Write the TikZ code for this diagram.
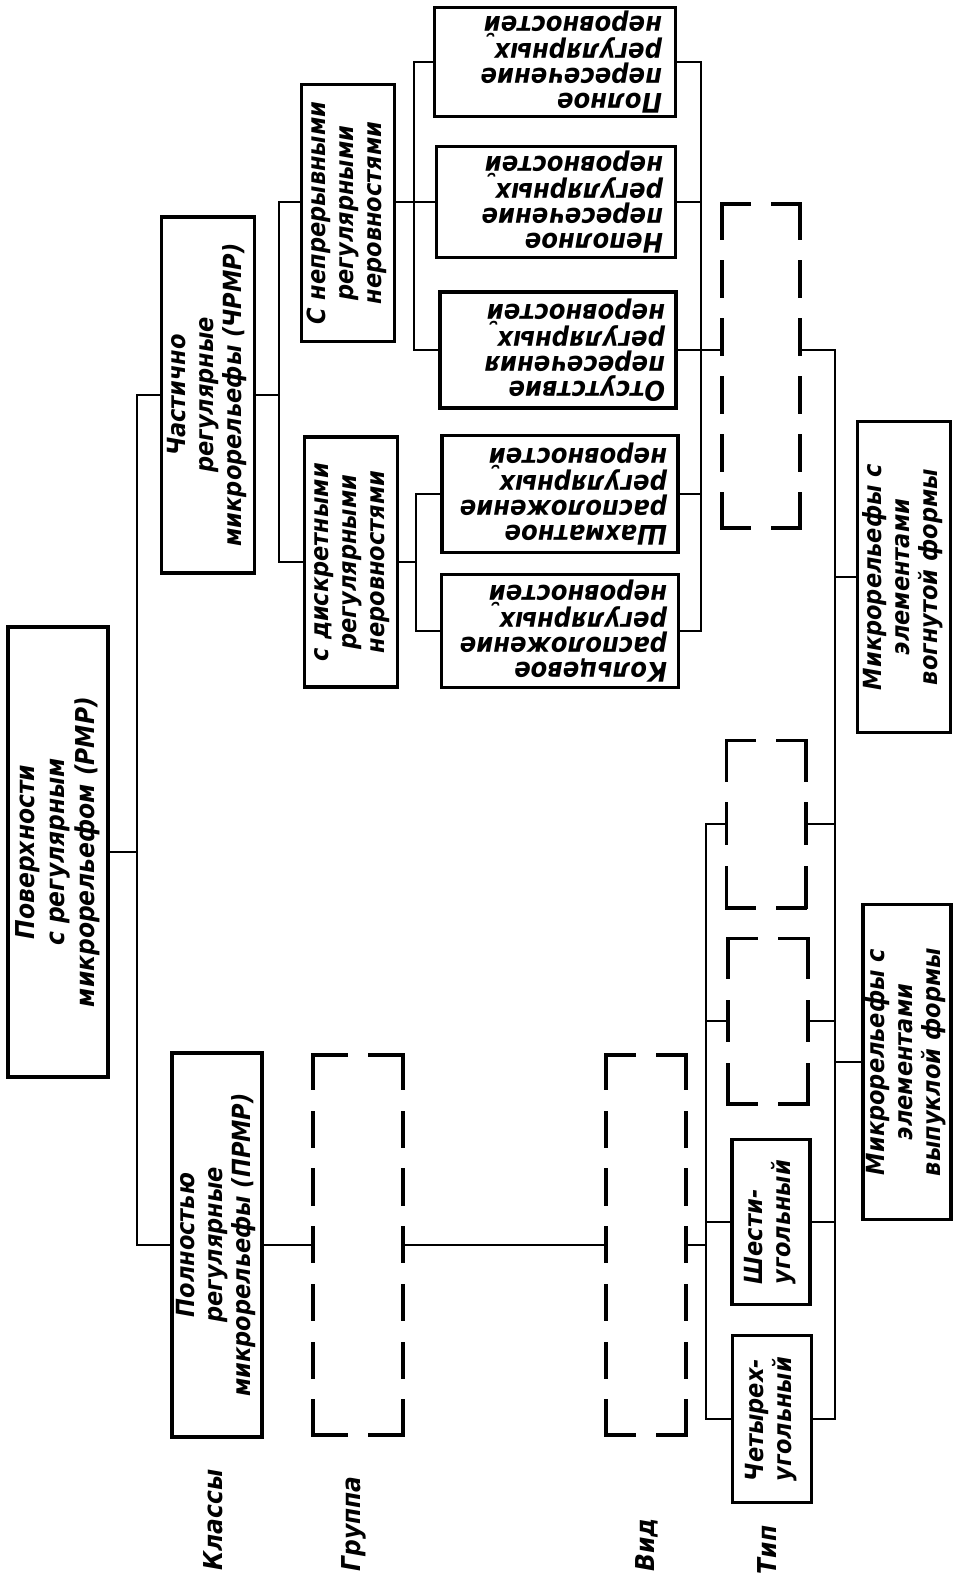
\documentclass[tikz,border=0pt]{standalone}
\usepackage{fontspec}
\setmainfont{DejaVu Sans Condensed}
\usepackage{graphicx}

\tikzset{
  box/.style={draw, line width=3.4pt, inner sep=0pt, font=\bfseries\itshape\fontsize{25}{28}\selectfont},
  rbox/.style={box, font=\bfseries\itshape\fontsize{27}{25}\selectfont},
  dbox/.style={inner sep=0pt},
  dframe/.style={line width=3.6pt, line cap=rect},
  link/.style={line width=2.3pt},
  lbl/.style={inner sep=0pt, font=\bfseries\itshape\fontsize{26}{30}\selectfont},
}
\newcommand{\vtext}[2][c]{\rotatebox{90}{\begin{tabular}{@{}#1@{}}#2\end{tabular}}}
\newcommand{\utext}[1]{\rotatebox{180}{\parbox{214pt}{\raggedright #1}}}
% dashed frame with solid corners: node, width, height
\newcommand{\dashframe}[3]{%
  \pgfmathsetmacro\nw{max(2,round((#2+24)/60))}
  \pgfmathsetmacro\dw{(#2-(\nw-1)*24)/\nw}
  \pgfmathsetmacro\nh{max(2,round((#3+24)/60))}
  \pgfmathsetmacro\dh{(#3-(\nh-1)*24)/\nh}
  \draw[dframe, dash pattern=on \dw off 24] (#1.north west) -- (#1.north east) (#1.south west) -- (#1.south east);
  \draw[dframe, dash pattern=on \dh off 24] (#1.north west) -- (#1.south west) (#1.north east) -- (#1.south east);
}

\begin{document}
\begin{tikzpicture}[x=1pt,y=-1pt]
\useasboundingbox (0,0) rectangle (953,1581);

% classes
\node[box, minimum width=100pt, minimum height=450pt, font=\bfseries\itshape\fontsize{26}{30}\selectfont] (rmp) at (58,852) {\vtext{Поверхности\\с регулярным\\микрорельефом (РМР)}};
\node[box, minimum width=93pt, minimum height=356pt] (chrmr) at (208,395) {\vtext{Частично\\регулярные\\микрорельефы (ЧРМР)}};
\node[box, minimum width=90pt, minimum height=384pt] (prmr) at (217,1245) {\vtext{Полностью\\регулярные\\микрорельефы (ПРМР)}};

% groups
\node[box, minimum width=93pt, minimum height=257pt] (nepr) at (348,213) {\vtext{С непрерывными\\регулярными\\неровностями}};
\node[box, minimum width=93pt, minimum height=250pt] (diskr) at (351,562) {\vtext{с дискретными\\регулярными\\неровностями}};
\node[dbox, minimum width=90pt, minimum height=380pt] (dgr) at (358,1245) {};

% kinds
\node[rbox, minimum width=241pt, minimum height=109pt] (poln) at (555,62) {\utext{Полное\\пересечение\\регулярных\\неровностей}};
\node[rbox, minimum width=239pt, minimum height=111pt] (nepol) at (556,202) {\utext{Неполное\\пересечение\\регулярных\\неровностей}};
\node[rbox, minimum width=236pt, minimum height=116pt] (otsut) at (558,350) {\utext{Отсутствие\\пересечения\\регулярных\\неровностей}};
\node[rbox, minimum width=236pt, minimum height=117pt] (shakh) at (560,494) {\utext{Шахматное\\расположение\\регулярных\\неровностей}};
\node[rbox, minimum width=237pt, minimum height=113pt] (kolc) at (560,631) {\utext{Кольцевое\\расположение\\регулярных\\неровностей}};
\node[dbox, minimum width=80pt, minimum height=380pt] (dvid) at (646,1245) {};

% types
\node[dbox, minimum width=78pt, minimum height=324pt] (dtip1) at (761,366) {};
\node[dbox, minimum width=79pt, minimum height=167pt] (dtip2) at (766,824) {};
\node[dbox, minimum width=80pt, minimum height=165pt] (dtip3) at (768,1021) {};
\node[box, minimum width=78pt, minimum height=165pt] (shest) at (771,1222) {\vtext[l]{Шести-\\угольный}};
\node[box, minimum width=79pt, minimum height=167pt] (chetyr) at (772,1419) {\vtext[l]{Четырех-\\угольный}};

% forms
\node[box, minimum width=93pt, minimum height=311pt] (vogn) at (904,577) {\vtext{Микрорельефы с\\элементами\\вогнутой формы}};
\node[box, minimum width=88pt, minimum height=315pt] (vypuk) at (907,1062) {\vtext{Микрорельефы с\\элементами\\выпуклой формы}};

\dashframe{dgr}{90}{380}
\dashframe{dvid}{80}{380}
\dashframe{dtip1}{78}{324}
\dashframe{dtip2}{79}{167}
\dashframe{dtip3}{80}{165}

% level labels
\node[lbl] (klassy) at (213,1520) {\rotatebox{90}{Классы}};
\node[lbl] (gruppa) at (354,1524) {\rotatebox{90}{Группа}};
\node[lbl] (vid) at (647,1545) {\rotatebox{90}{Вид}};
\node[lbl] (tip) at (767,1550) {\rotatebox{90}{Тип}};

% bus lines
\coordinate (t1) at (137,0);
\coordinate (t2) at (279,0);
\coordinate (t3) at (414,0);
\coordinate (t4) at (416,0);
\coordinate (t5) at (701,0);
\coordinate (t6) at (835,0);
\coordinate (t7) at (706,0);

\draw[link] (rmp.east) -- (rmp.east -| t1);
\draw[link] (chrmr.west) -- (chrmr.west -| t1) -- (prmr.west -| t1) -- (prmr.west);

\draw[link] (chrmr.east) -- (chrmr.east -| t2);
\draw[link] (nepol.west -| nepr.west) -| (t2 |- diskr.west) -- (diskr.west);

\draw[link] (nepol.west -| nepr.east) -- (nepol.west);
\draw[link] (poln.west) -| (t3 |- otsut.west) -- (otsut.west);
\draw[link] (diskr.east) -- (diskr.east -| t4);
\draw[link] (shakh.west) -| (t4 |- kolc.west) -- (kolc.west);

\draw[link] (poln.east) -| (t5 |- kolc.east) -- (kolc.east);
\draw[link] (nepol.east) -- (nepol.east -| t5);
\draw[link] (shakh.east) -- (shakh.east -| t5);
\draw[link] (otsut.east) -- (otsut.east -| dtip1.west);

\draw[link] (otsut.east -| dtip1.east) -| (t6 |- chetyr.east) -- (chetyr.east);
\draw[link] (vogn.west) -- (vogn.west -| t6);
\draw[link] (vypuk.west) -- (vypuk.west -| t6);
\draw[link] (dtip2.east) -- (dtip2.east -| t6);
\draw[link] (dtip3.east) -- (dtip3.east -| t6);
\draw[link] (shest.east) -- (shest.east -| t6);

\draw[link] (prmr.east) -- (dgr.west);
\draw[link] (dgr.east) -- (dvid.west);
\draw[link] (dvid.east) -- (dvid.east -| t7);
\draw[link] (dtip2.west) -| (t7 |- chetyr.west) -- (chetyr.west);
\draw[link] (dtip3.west) -- (dtip3.west -| t7);
\draw[link] (shest.west) -- (shest.west -| t7);
\end{tikzpicture}
\end{document}
